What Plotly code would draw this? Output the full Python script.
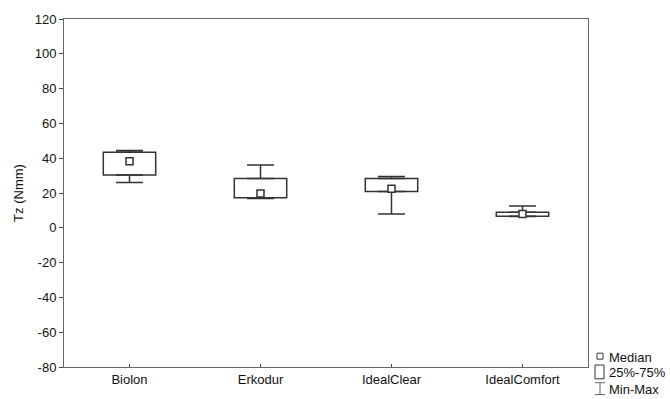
import plotly.graph_objects as go

categories = ["Biolon", "Erkodur", "IdealClear", "IdealComfort"]
median = [38.2, 19.7, 22.5, 8.0]
q1 = [30.3, 17.2, 20.8, 6.7]
q3 = [43.4, 28.4, 28.4, 8.9]
vmin = [26.1, 16.9, 8.0, 6.5]
vmax = [44.4, 36.1, 29.5, 12.6]
y_ticks = list(range(-80, 121, 20))
y_tick_labels = [str(v) for v in y_ticks]  # ASCII hyphen for negatives

FONT = "Liberation Sans, Arial, sans-serif"
EDGE = "#333333"
TXT = "#111111"

fig = go.Figure()

# 25%-75% boxes
fig.add_trace(go.Bar(
    x=categories,
    y=[b - a for a, b in zip(q1, q3)],
    base=q1,
    width=0.4,
    marker=dict(color="white", line=dict(color=EDGE, width=1.5)),
    showlegend=False,
    hoverinfo="skip",
))

# upper whiskers (q3 -> max)
fig.add_trace(go.Scatter(
    x=categories, y=q3, mode="markers",
    marker=dict(size=1, opacity=0),
    error_y=dict(type="data", symmetric=False,
                 array=[b - a for a, b in zip(q3, vmax)],
                 arrayminus=[0] * len(categories),
                 width=13.5, thickness=1.5, color=EDGE),
    showlegend=False, hoverinfo="skip",
))

# lower whiskers (q1 -> min)
fig.add_trace(go.Scatter(
    x=categories, y=q1, mode="markers",
    marker=dict(size=1, opacity=0),
    error_y=dict(type="data", symmetric=False,
                 array=[0] * len(categories),
                 arrayminus=[a - b for a, b in zip(q1, vmin)],
                 width=13.5, thickness=1.5, color=EDGE),
    showlegend=False, hoverinfo="skip",
))

# medians
fig.add_trace(go.Scatter(
    x=categories, y=median, mode="markers",
    marker=dict(symbol="square", size=7, color="white",
                line=dict(color=EDGE, width=1.5)),
    showlegend=False,
))

# plot area geometry (pixels) used for the hand-made legend
L, R, T, B = 64, 588, 15, 369
def px(x):
    return (x - L) / (R - L)
def py(y):
    return (B - y) / (B - T)

shapes = [
    # Median marker
    dict(type="rect", xref="paper", yref="paper",
         x0=px(597), x1=px(603), y0=py(361), y1=py(355),
         line=dict(color=EDGE, width=1), fillcolor="white"),
    # 25%-75% box
    dict(type="rect", xref="paper", yref="paper",
         x0=px(595), x1=px(604), y0=py(381), y1=py(367),
         line=dict(color=EDGE, width=1), fillcolor="white"),
    # Min-Max I-beam
    dict(type="line", xref="paper", yref="paper",
         x0=px(600), x1=px(600), y0=py(397), y1=py(385),
         line=dict(color="#666666", width=1)),
    dict(type="line", xref="paper", yref="paper",
         x0=px(595), x1=px(605), y0=py(385), y1=py(385),
         line=dict(color="#666666", width=1)),
    dict(type="line", xref="paper", yref="paper",
         x0=px(595), x1=px(605), y0=py(397), y1=py(397),
         line=dict(color="#666666", width=1)),
]

legend_labels = ["Median", "25%-75%", "Min-Max"]
legend_y = [359, 375, 391.5]
annotations = [
    dict(text=t, xref="paper", yref="paper", x=px(607), y=py(yy),
         xanchor="left", yanchor="middle", showarrow=False,
         font=dict(family=FONT, size=13, color=TXT))
    for t, yy in zip(legend_labels, legend_y)
]

fig.update_layout(
    width=670, height=399,
    margin=dict(l=L, r=670 - R, t=T, b=399 - B),
    paper_bgcolor="white", plot_bgcolor="white",
    font=dict(family=FONT, size=13, color=TXT),
    showlegend=False,
    shapes=shapes,
    annotations=annotations,
    xaxis=dict(
        range=[-0.5, 3.5],
        showgrid=False, zeroline=False,
        showline=True, linecolor="#666666", linewidth=1, mirror=True,
        ticks="inside", ticklen=3, tickcolor="#444444",
        tickfont=dict(family=FONT, size=13, color=TXT),
    ),
    yaxis=dict(
        range=[-80, 120],
        tickmode="array", tickvals=y_ticks, ticktext=y_tick_labels,
        showgrid=False, zeroline=False,
        showline=True, linecolor="#666666", linewidth=1, mirror=True,
        ticks="outside", ticklen=4, tickcolor="#444444",
        tickfont=dict(family=FONT, size=13, color=TXT),
        title=dict(text="Tz (Nmm)", font=dict(family=FONT, size=13, color=TXT),
                   standoff=8),
    ),
)

fig.write_html("out.html")
